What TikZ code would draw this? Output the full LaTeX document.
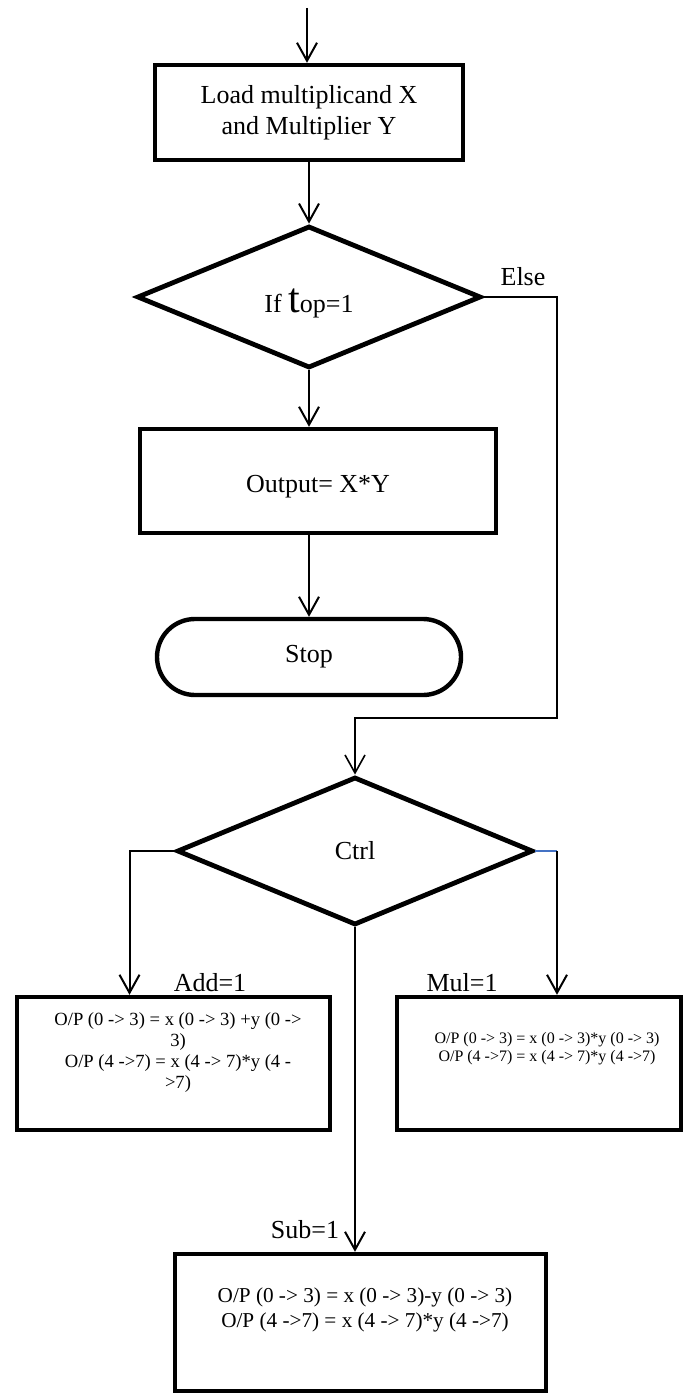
\documentclass[tikz,border=0pt]{standalone}
\usepackage{fontspec}
\setmainfont{Liberation Serif}
\usepackage{tikz}
\usetikzlibrary{shapes.geometric}
\usetikzlibrary{shapes.misc}
\usetikzlibrary{arrows.meta}
\usetikzlibrary{positioning}
\definecolor{wordblue}{RGB}{68,114,196}

\tikzset{
  base/.style = {font=\fontsize{13}{15.5}\selectfont},
  procbox/.style = {draw, line width=2.2pt, rectangle, inner sep=0pt, align=center, base},
  decision/.style = {draw, line width=2.4pt, diamond, aspect=2, inner sep=0pt, align=center, base},
  termbox/.style = {draw, line width=2.2pt, rounded rectangle, inner sep=0pt, base},
  optext/.style = {align=center, inner sep=0pt},
  flow/.style = {line width=1pt, -{Straight Barb[length=9pt,width=10pt]}},
  lbl/.style = {base, anchor=base, inner sep=0pt}
}

\begin{document}
\begin{tikzpicture}[x=0.5pt, y=-0.5pt]
    \useasboundingbox (0,0) rectangle (684,1395);

    % main column
    \node[procbox, minimum width=154pt, minimum height=47.5pt] (load) at (309,112.5)
        {Load multiplicand X\\and Multiplier Y};
    \node[decision, minimum width=172pt, minimum height=71pt, text height=19pt, text depth=3pt] (iftop) at (309,297)
        {If {\fontsize{21}{21}\selectfont t}op=1};
    \node[procbox, minimum width=178pt, minimum height=52pt, text height=14pt, text depth=3pt] (output) at (318,481) {Output= X*Y};
    \node[termbox, minimum width=152pt, minimum height=38pt] (stop) at (309,657) {Stop};

    % control part
    \node[decision, minimum width=178pt, minimum height=74pt] (ctrl) at (355,851) {Ctrl};
    \node[procbox, minimum width=156.5pt, minimum height=66.5pt] (add) at (173.5,1063.5) {};
    \node[procbox, minimum width=142pt, minimum height=66.5pt] (mul) at (539,1063.5) {};
    \node[procbox, minimum width=185.5pt, minimum height=68.5pt] (sub) at (360.5,1322.5) {};

    \node[optext, font=\fontsize{9.3}{10.5}\selectfont] (addtxt) at (178,1053)
        {O/P (0 -> 3) = x (0 -> 3) +y (0 ->\\3)\\O/P (4 ->7) = x (4 -> 7)*y (4 -\\>7)};
    \node[optext, font=\fontsize{8}{9}\selectfont] (multxt) at (547,1049)
        {O/P (0 -> 3) = x (0 -> 3)*y (0 -> 3)\\O/P (4 ->7) = x (4 -> 7)*y (4 ->7)};
    \node[optext, font=\fontsize{10.6}{12.5}\selectfont] (subtxt) at (365,1310)
        {O/P (0 -> 3) = x (0 -> 3)-y (0 -> 3)\\O/P (4 ->7) = x (4 -> 7)*y (4 ->7)};

    % labels
    \node[lbl] (elselbl) at (523,286) {Else};
    \node[lbl] (addlbl) at (210,991) {Add=1};
    \node[lbl] (mullbl) at (462,991) {Mul=1};
    \node[lbl] (sublbl) at (305,1238) {Sub=1};

    % arrows
    \coordinate (start) at (307,8);
    \draw[flow] (start) -- (start |- load.north);
    \draw[flow] (load) -- (iftop);
    \draw[flow] (iftop.south) -- (iftop.south |- output.north);
    \draw[flow] (stop.north |- output.south) -- (stop.north);

    \coordinate (loopturn) at (557,718);
    \draw[flow, line width=0.8pt] (iftop.east) -| (loopturn) -| (ctrl.north);

    \coordinate (addin) at ([xshift=-22pt]add.north);
    \draw[flow] (ctrl.west) -| (addin);
    \coordinate (mulin) at ([xshift=9pt]mul.north);
    \draw[wordblue, line width=0.8pt] (ctrl.east) -- (ctrl.east -| mulin);
    \draw[flow] (ctrl.east -| mulin) -- (mulin);
    \draw[flow] (ctrl.south) -- (ctrl.south |- sub.north);
\end{tikzpicture}
\end{document}
